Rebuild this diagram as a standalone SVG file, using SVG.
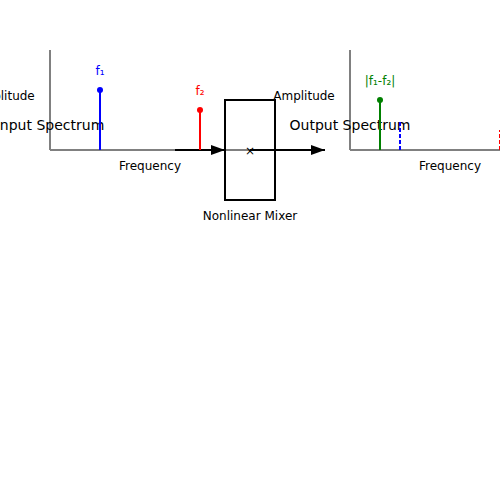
<svg xmlns="http://www.w3.org/2000/svg" width="500" height="500" viewBox="0 0 500 500">
<defs>
<style>
text{font-family:"DejaVu Sans","Liberation Sans",sans-serif;fill:#000}
.lbl{font-size:12px;text-anchor:middle}
.title{font-size:14px;text-anchor:middle}
.axis{stroke:#808080;stroke-width:2;fill:none}
.arrow{stroke:#000;stroke-width:2;fill:none}
</style>
<marker id="ah" markerUnits="userSpaceOnUse" markerWidth="14" markerHeight="10" refX="14" refY="5" orient="auto">
<polygon points="0 0, 14 5, 0 10" fill="#000"/>
</marker>
</defs>
<rect width="500" height="500" fill="#fff"/>
<g id="input-spectrum">
<line class="axis" x1="50" y1="150" x2="50" y2="50"/>
<line class="axis" x1="50" y1="150" x2="250" y2="150"/>
<text class="lbl" x="150" y="170">Frequency</text>
<text class="lbl" x="4" y="100">Amplitude</text>
<text class="title" x="50" y="130">Input Spectrum</text>
</g>
<g id="connectors">
<line class="arrow" x1="175" y1="150" x2="225" y2="150" marker-end="url(#ah)"/>
<line class="arrow" x1="250" y1="150" x2="325" y2="150" marker-end="url(#ah)"/>
</g>
<g id="f1">
<line x1="100" y1="150" x2="100" y2="90" stroke="blue" stroke-width="2"/>
<circle cx="100" cy="90" r="3" fill="blue"/>
<text class="lbl" x="100" y="75" style="fill:blue">f₁</text>
</g>
<g id="f2">
<line x1="200" y1="150" x2="200" y2="110" stroke="red" stroke-width="2"/>
<circle cx="200" cy="110" r="3" fill="red"/>
<text class="lbl" x="200" y="95" style="fill:red">f₂</text>
</g>
<g id="mixer">
<rect x="225" y="100" width="50" height="100" fill="none" stroke="#000" stroke-width="2"/>
<text class="lbl" x="250" y="155">×</text>
<text class="lbl" x="250" y="220">Nonlinear Mixer</text>
</g>
<g id="output-spectrum">
<line class="axis" x1="350" y1="150" x2="350" y2="50"/>
<line class="axis" x1="350" y1="150" x2="550" y2="150"/>
<text class="lbl" x="450" y="170">Frequency</text>
<text class="lbl" x="304" y="100">Amplitude</text>
<text class="title" x="350" y="130">Output Spectrum</text>
</g>
<g id="diff">
<line x1="380" y1="150" x2="380" y2="100" stroke="green" stroke-width="2"/>
<circle cx="380" cy="100" r="3" fill="green"/>
<text class="lbl" x="380" y="85" style="fill:green">|f₁-f₂|</text>
</g>
<g id="harmonics">
<line x1="400" y1="150" x2="400" y2="121" stroke="blue" stroke-width="2" stroke-dasharray="4,2"/>
<line x1="500" y1="150" x2="500" y2="130" stroke="red" stroke-width="2" stroke-dasharray="4,2"/>
</g>
</svg>
